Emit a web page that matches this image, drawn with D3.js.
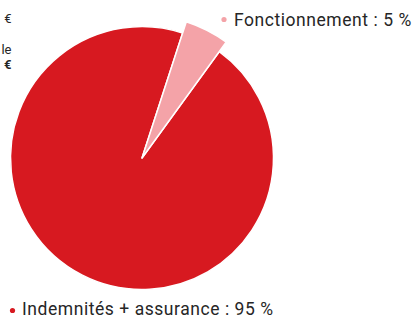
<!DOCTYPE html>
<html>
<head>
<meta charset="utf-8">
<script src="https://cdn.jsdelivr.net/npm/d3@7"></script>
<style>
  html, body { margin: 0; padding: 0; background: #fff; }
  svg { display: block; font-family: Roboto, sans-serif; }
</style>
</head>
<body>
<div id="chart"></div>
<script>
// pie data, in drawing order (clockwise from the start angle)
var categories = ["Fonctionnement", "Indemnités + assurance"];
var shares = [5, 95];
var colors = ["#f4a3a8", "#d71920"];
// fragments of labels that are cut by the left border
var cutLabels = [
	{ text: "€", bold: false },
	{ text: "le", bold: false },
	{ text: "€", bold: true }
];

var width = 415, height = 316;
var cx = 142, cy = 158, radius = 131.5;

var svg = d3.select("#chart").append("svg")
		.attr("width", width)
		.attr("height", height);

var pie = d3.pie()
		.sort(null)
		.value(function (d) { return d; })
		.startAngle(Math.PI / 10)
		.endAngle(Math.PI / 10 + 2 * Math.PI);

var arcs = pie(shares);

var arc = d3.arc()
		.innerRadius(0)
		.outerRadius(function (d) { return d.index === 0 ? radius * 1.09 : radius; });

var g = svg.append("g").attr("transform", "translate(" + cx + "," + cy + ")");

// red slice first, pink slice on top of it
g.selectAll("path")
	.data(arcs.slice().reverse())
	.enter()
	.append("path")
	.attr("d", arc)
	.attr("fill", function (d) { return colors[d.index]; })
	.attr("stroke", "#fff")
	.attr("stroke-width", 1.5)
	.attr("stroke-linejoin", "round");

// legend labels
var legendPos = [
	{ dotX: 224, dotY: 19.5, textX: 234, textY: 26 },
	{ dotX: 12.5, dotY: 310.5, textX: 22, textY: 315 }
];

var legend = svg.selectAll("g.legend")
		.data(categories)
		.enter()
		.append("g")
		.attr("class", "legend");

legend.append("circle")
	.attr("cx", function (d, i) { return legendPos[i].dotX; })
	.attr("cy", function (d, i) { return legendPos[i].dotY; })
	.attr("r", 2.6)
	.attr("fill", function (d, i) { return colors[i]; });

legend.append("text")
	.attr("x", function (d, i) { return legendPos[i].textX; })
	.attr("y", function (d, i) { return legendPos[i].textY; })
	.attr("font-size", 17.5)
	.attr("letter-spacing", 0.55)
	.attr("fill", "#262626")
	.text(function (d, i) { return d + " : " + shares[i] + " %"; });

// clipped labels at the left border
var cutY = [23, 54, 69];
svg.selectAll("text.cut")
	.data(cutLabels)
	.enter()
	.append("text")
	.attr("class", "cut")
	.attr("x", 11.5)
	.attr("y", function (d, i) { return cutY[i]; })
	.attr("text-anchor", "end")
	.attr("font-size", 13)
	.attr("font-weight", function (d) { return d.bold ? 700 : 400; })
	.attr("fill", "#262626")
	.text(function (d) { return d.text; });
</script>
</body>
</html>
